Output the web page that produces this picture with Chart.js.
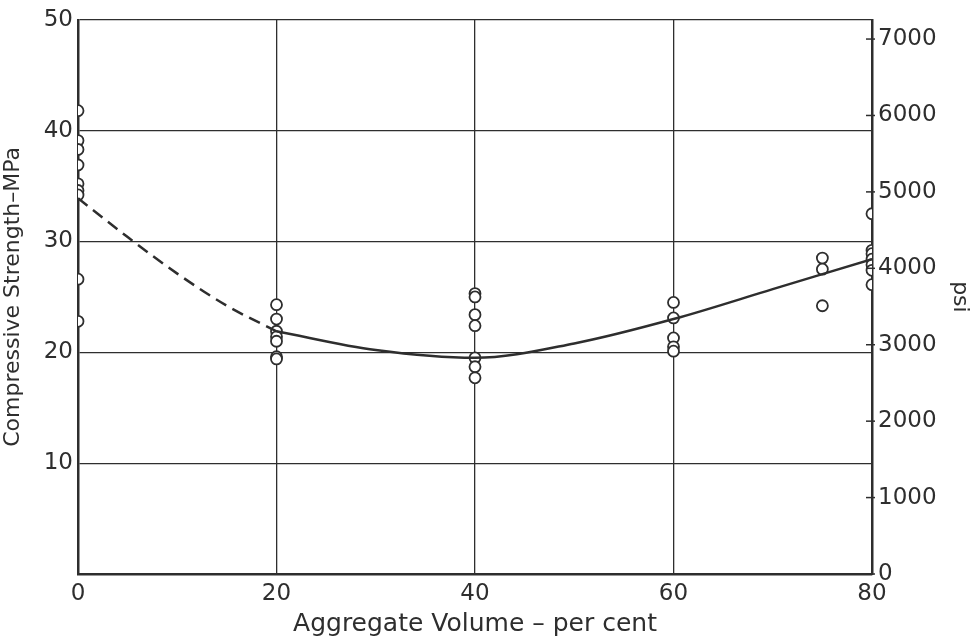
<!DOCTYPE html>
<html>
<head>
<meta charset="utf-8">
<script src="https://cdn.jsdelivr.net/npm/chart.js@4"></script>
<style>
html,body{margin:0;padding:0;background:#fff;}
#wrap{width:973px;height:639px;position:relative;}
</style>
</head>
<body>
<div id="wrap"><canvas id="c" width="973" height="639"></canvas></div>
<script>
// Measured strengths (MPa) at each aggregate volume (per cent)
const vol0  = [41.8, 39.1, 38.3, 36.9, 35.2, 34.6, 34.2, 26.6, 22.8];
const vol20 = [24.3, 23.0, 21.9, 21.4, 21.0, 19.6, 19.4];
const vol40 = [25.3, 25.0, 23.4, 22.4, 19.5, 18.7, 17.7];
const vol60 = [24.5, 23.1, 21.3, 20.5, 20.1];
const vol75 = [28.5, 27.5, 24.2];
const vol80 = [32.5, 29.2, 28.9, 28.4, 27.9, 27.4, 26.1];
const groupVolumes = [0, 20, 40, 60, 75, 80];
const groupValues = [vol0, vol20, vol40, vol60, vol75, vol80];

// Fitted curve: dashed (extrapolated) part and solid part
const dashX = [0, 5, 10, 15, 20];
const dashY = [33.9, 30.4, 27.1, 24.2, 21.9];
const solidX = [20, 30, 40, 50, 60, 70, 80];
const solidY = [21.9, 20.2, 19.5, 20.8, 23.0, 25.7, 28.4];

const xTicks = [0, 20, 40, 60, 80];
const mpaTicks = [10, 20, 30, 40, 50];
const psiTicks = [0, 1000, 2000, 3000, 4000, 5000, 6000, 7000];
const PSI_PER_MPA = 145.038;

const points = [];
groupVolumes.forEach((v, i) => groupValues[i].forEach(y => points.push({x: v, y: y})));

const ink = '#2e2e2e';
const fontFam = '"DejaVu Sans", sans-serif';

const psiTickPlugin = {
  id: 'psiTicks',
  afterDatasetsDraw(chart) {
    const s = chart.scales.psi, ctx = chart.ctx;
    ctx.save();
    ctx.strokeStyle = ink; ctx.lineWidth = 1.5;
    psiTicks.forEach(p => {
      const y = s.getPixelForValue(p);
      ctx.beginPath(); ctx.moveTo(s.left - 6, y); ctx.lineTo(s.left + 3, y); ctx.stroke();
    });
    ctx.restore();
  }
};

new Chart(document.getElementById('c'), {
  type: 'scatter',
  data: {
    datasets: [
      {
        type: 'line',
        data: dashX.map((x, i) => ({x: x, y: dashY[i]})),
        borderColor: ink, borderWidth: 2.5, borderDash: [12, 7],
        pointRadius: 0, fill: false, cubicInterpolationMode: 'monotone', yAxisID: 'y'
      },
      {
        type: 'line',
        data: solidX.map((x, i) => ({x: x, y: solidY[i]})),
        borderColor: ink, borderWidth: 2.5,
        pointRadius: 0, fill: false, cubicInterpolationMode: 'monotone', yAxisID: 'y'
      },
      {
        data: points,
        pointRadius: 5.5, pointBorderWidth: 1.8,
        pointBorderColor: ink, pointBackgroundColor: '#fff',
        yAxisID: 'y'
      }
    ]
  },
  options: {
    responsive: false,
    animation: false,
    events: [],
    layout: {padding: {top: 17, left: 0, right: 0, bottom: 0}},
    plugins: {legend: {display: false}, tooltip: {enabled: false}},
    scales: {
      x: {
        type: 'linear', min: 0, max: 80,
        afterBuildTicks: s => { s.ticks = xTicks.map(v => ({value: v})); },
        afterFit: s => { s.height = 65; },
        grid: {color: ink, lineWidth: 1.3, drawTicks: false},
        border: {color: ink, width: 2.5},
        ticks: {color: ink, font: {family: fontFam, size: 23}, padding: 6, maxRotation: 0},
        title: {display: true, text: 'Aggregate Volume – per cent', color: ink,
                font: {family: fontFam, size: 25}, padding: {top: 0, bottom: 0}}
      },
      y: {
        type: 'linear', position: 'left', min: 0, max: 50,
        afterBuildTicks: s => { s.ticks = mpaTicks.map(v => ({value: v})); },
        afterFit: s => { s.width = 78; },
        grid: {color: ink, lineWidth: 1.3, drawTicks: false},
        border: {color: ink, width: 2.5},
        ticks: {color: ink, font: {family: fontFam, size: 23}, padding: 5},
        title: {display: true, text: 'Compressive Strength–MPa', color: ink,
                font: {family: fontFam, size: 22}, padding: {top: 0, bottom: 1}}
      },
      psi: {
        type: 'linear', position: 'right', min: 0, max: 50 * PSI_PER_MPA,
        afterBuildTicks: s => { s.ticks = psiTicks.map(v => ({value: v})); },
        afterFit: s => { s.width = 101; },
        grid: {drawOnChartArea: false, drawTicks: false},
        border: {color: ink, width: 2.5},
        ticks: {color: ink, font: {family: fontFam, size: 23}, padding: 6,
                callback: v => String(v)},
        title: {display: true, text: 'psi', color: ink,
                font: {family: fontFam, size: 22}, padding: {top: 0, bottom: 0}}
      }
    }
  },
  plugins: [psiTickPlugin]
});
</script>
</body>
</html>
